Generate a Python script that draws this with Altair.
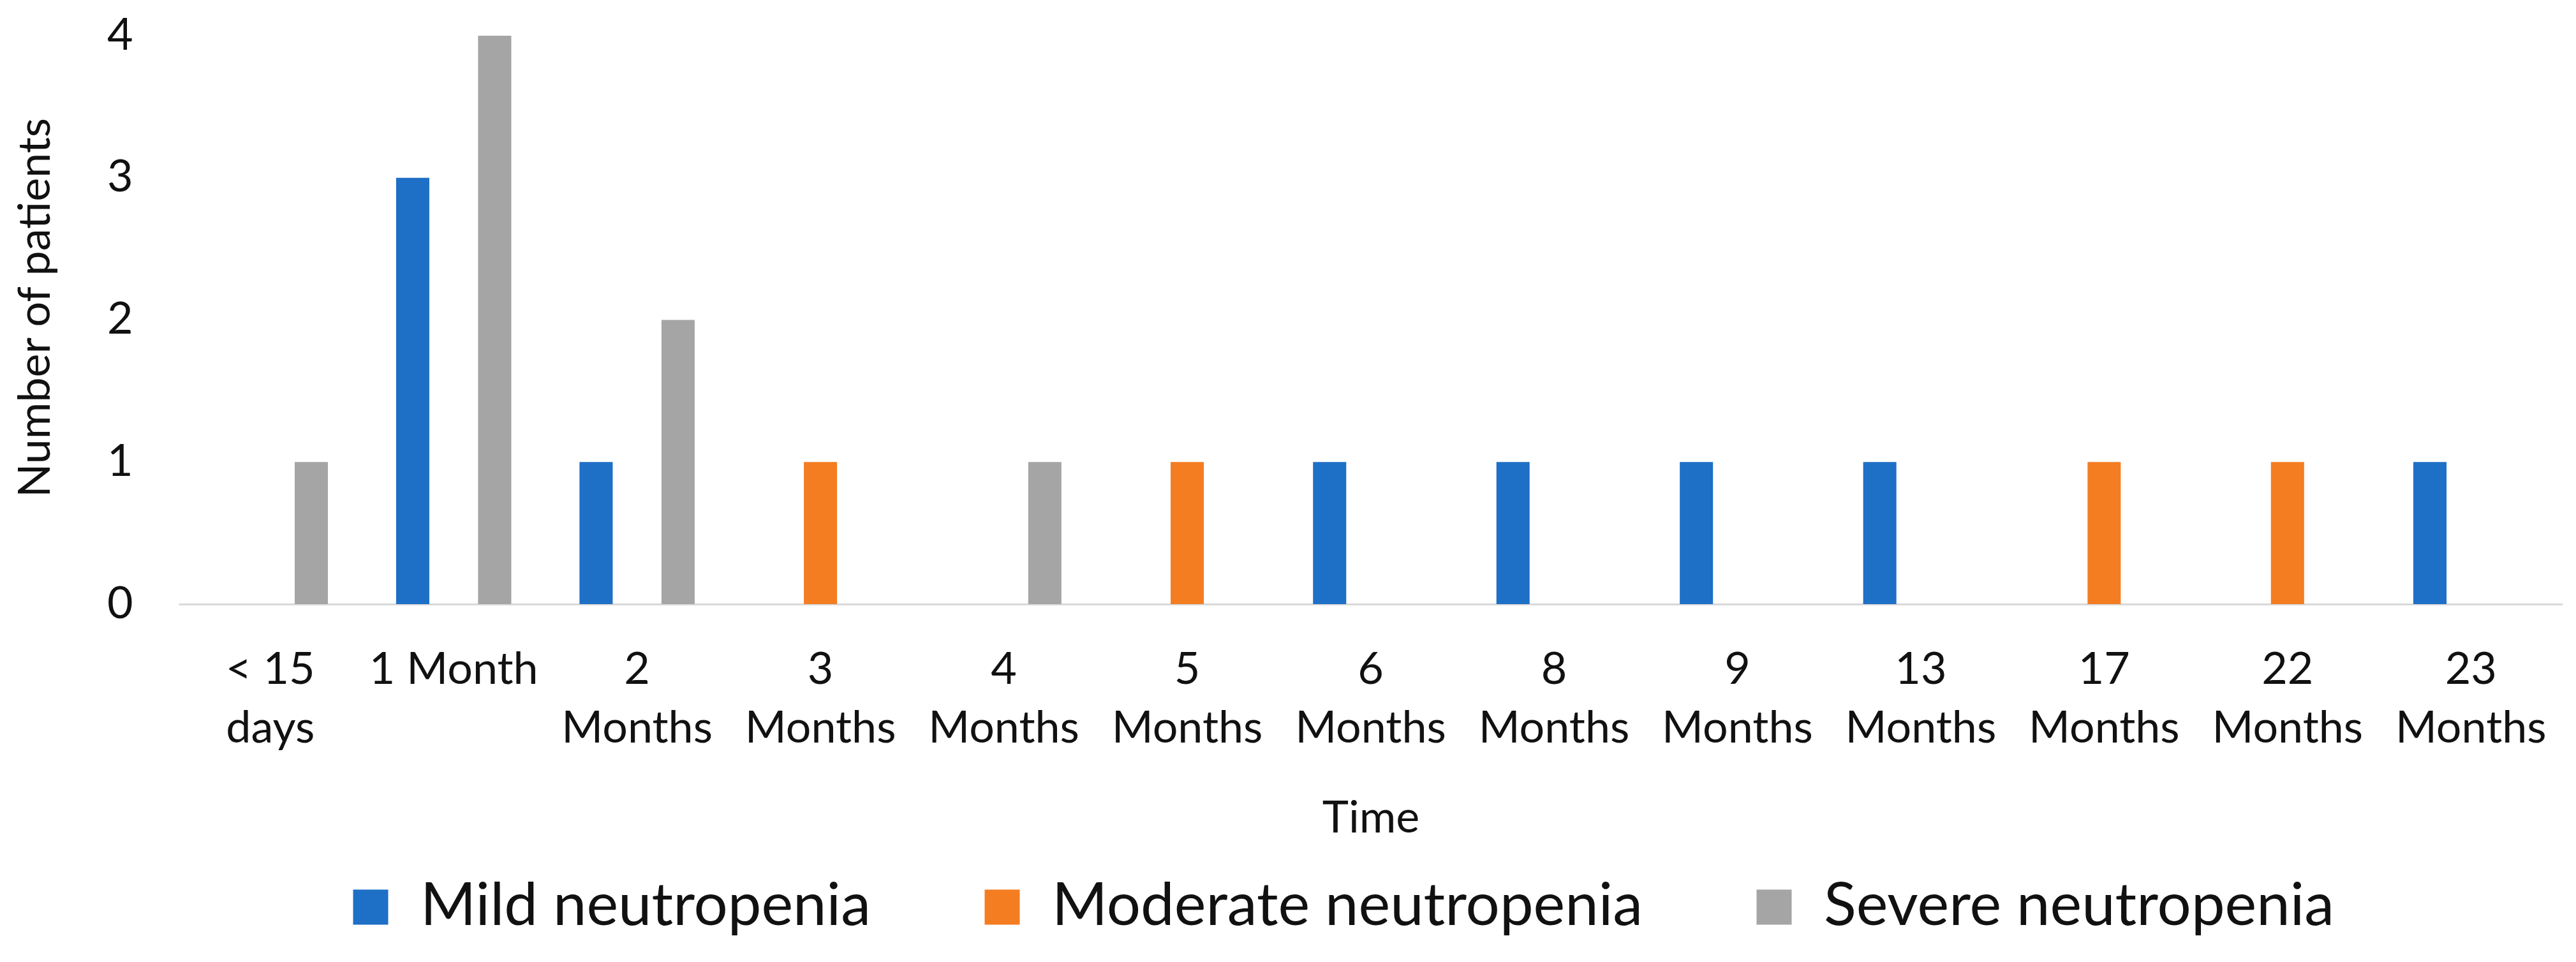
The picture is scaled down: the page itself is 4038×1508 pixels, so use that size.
import altair as alt
import pandas as pd

categories = ["< 15 days", "1 Month", "2 Months", "3 Months", "4 Months", "5 Months",
              "6 Months", "8 Months", "9 Months", "13 Months", "17 Months", "22 Months", "23 Months"]
series = ["Mild neutropenia", "Moderate neutropenia", "Severe neutropenia"]
mild = [0, 3, 1, 0, 0, 0, 1, 1, 1, 1, 0, 0, 1]
moderate = [0, 0, 0, 1, 0, 1, 0, 0, 0, 0, 1, 1, 0]
severe = [1, 4, 2, 0, 1, 0, 0, 0, 0, 0, 0, 0, 0]
colors = ["#1E6FC6", "#F47D22", "#A5A5A5"]
y_ticks = [0, 1, 2, 3, 4]

rows = []
for vals, s in zip([mild, moderate, severe], series):
    for c, v in zip(categories, vals):
        rows.append({"Time": c, "Series": s, "Patients": v})
df = pd.DataFrame(rows)

FONT = "Lato"
label_expr = ("datum.label == '1 Month' ? datum.label : "
              "[slice(datum.label, 0, lastindexof(datum.label, ' ')), "
              "slice(datum.label, lastindexof(datum.label, ' ') + 1)]")

chart = alt.Chart(df).mark_bar().encode(
    x=alt.X("Time:N", sort=categories,
            scale=alt.Scale(paddingInner=0.372, paddingOuter=0.186),
            axis=alt.Axis(title="Time", labelAngle=0, labelExpr=label_expr,
                          labelFont=FONT, labelFontSize=70, labelColor="#111111",
                          labelLineHeight=92, labelPadding=69, labelBaseline="top",
                          labelLimit=2000, labelOverlap=False,
                          ticks=False, grid=False,
                          domainColor="#D9D9D9", domainWidth=3,
                          titleFont=FONT, titleFontSize=70, titleFontWeight="normal",
                          titleColor="#111111", titleBaseline="top", titleY=302)),
    xOffset=alt.XOffset("Series:N", sort=series,
                        scale=alt.Scale(domain=series, paddingInner=0.19, paddingOuter=0)),
    y=alt.Y("Patients:Q",
            scale=alt.Scale(domain=[0, 4], nice=False),
            axis=alt.Axis(title="Number of patients", values=y_ticks, format="d",
                          labelFont=FONT, labelFontSize=70, labelColor="#111111",
                          labelPadding=72, ticks=False, grid=False, domain=False,
                          titleFont=FONT, titleFontSize=70, titleFontWeight="normal",
                          titleColor="#111111", titleBaseline="middle",
                          titleX=-224, titleY=426, titleAngle=270)),
    color=alt.Color("Series:N", sort=series,
                    scale=alt.Scale(domain=series, range=colors),
                    legend=alt.Legend(title=None, orient="none", direction="horizontal",
                                      legendX=254, legendY=1319,
                                      symbolType="square", symbolSize=3025,
                                      symbolStrokeWidth=0, symbolOpacity=1,
                                      labelFont=FONT, labelFontSize=94,
                                      labelColor="#111111", labelOffset=31,
                                      columnPadding=159, padding=0, labelLimit=2000)),
).properties(
    width=3737, height=891,
    autosize=alt.AutoSizeParams(type="none"),
    padding={"left": 272, "top": 48, "right": 12, "bottom": 540},
).configure_view(strokeWidth=0)

chart.save("out.html", embed_options={"renderer": "svg", "actions": False})
